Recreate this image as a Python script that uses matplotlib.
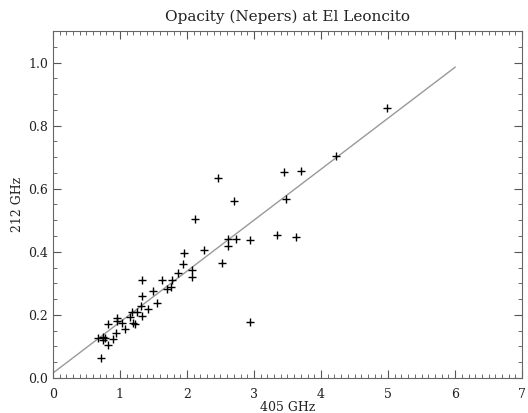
import matplotlib
matplotlib.use("Agg")
import matplotlib.pyplot as plt
import numpy as np
from matplotlib.ticker import MultipleLocator

# opacity at 405 GHz vs 212 GHz
tau405 = [4.99, 4.23, 2.46, 3.45, 3.70, 2.70, 3.48, 2.61, 2.73, 2.61,
          2.94, 3.34, 3.63, 2.25, 2.52, 2.94, 2.12, 1.95, 1.94, 1.87,
          2.08, 2.07, 1.33, 1.63, 1.78, 1.50, 1.71, 1.76, 1.33, 1.56,
          1.32, 1.42, 1.18, 1.26, 1.33, 1.15, 0.96, 0.96, 1.03, 1.19,
          1.22, 0.82, 1.07, 0.94, 0.90, 0.67, 0.75, 0.78, 0.75, 0.82,
          0.72]
tau212 = [0.857, 0.704, 0.634, 0.653, 0.656, 0.561, 0.567, 0.440, 0.440, 0.417,
          0.436, 0.452, 0.446, 0.404, 0.363, 0.178, 0.505, 0.397, 0.360, 0.334,
          0.341, 0.319, 0.309, 0.309, 0.309, 0.277, 0.283, 0.287, 0.261, 0.236,
          0.229, 0.220, 0.210, 0.210, 0.197, 0.194, 0.190, 0.180, 0.175, 0.175,
          0.172, 0.172, 0.156, 0.143, 0.124, 0.127, 0.130, 0.127, 0.121, 0.105,
          0.064]

# fitted line
fit_slope = 0.1617
fit_icpt = 0.015
fit_range = [0, 6]

plt.rcParams['font.family'] = ['DejaVu Serif']
fig = plt.figure(figsize=(5.28, 4.13), dpi=100)
ax = fig.add_axes([0.100, 0.085, 0.889, 0.840])

fx = np.array(fit_range)
ax.plot(fx, fit_icpt + fit_slope * fx, color='#999999', lw=1.0)
ax.plot(tau405, tau212, ls='none', marker='+', color='black', ms=5.5, mew=1.0)

ax.set_xlim(0, 7)
ax.set_ylim(0, 1.1)
ax.xaxis.set_major_locator(MultipleLocator(1))
ax.xaxis.set_minor_locator(MultipleLocator(0.1))
ax.yaxis.set_major_locator(MultipleLocator(0.2))
ax.yaxis.set_minor_locator(MultipleLocator(0.05))
ax.yaxis.set_major_formatter(plt.FormatStrFormatter('%.1f'))
ax.tick_params(which='both', direction='in', top=True, right=True,
               color='#555555', labelsize=9, labelcolor='#222222')
ax.tick_params(which='major', length=6, width=0.8)
ax.tick_params(which='minor', length=3, width=0.6)
ax.tick_params(axis='x', which='major', pad=7)
for s in ax.spines.values():
    s.set_color('#666666')
    s.set_linewidth(0.8)

ax.set_title('Opacity (Nepers) at El Leoncito', fontsize=11, pad=7, color='#222222')
ax.set_xlabel('405 GHz', fontsize=9, labelpad=0, color='#222222')
ax.set_ylabel('212 GHz', fontsize=9, labelpad=3, color='#222222')

fig.savefig('out.png', dpi=100)
